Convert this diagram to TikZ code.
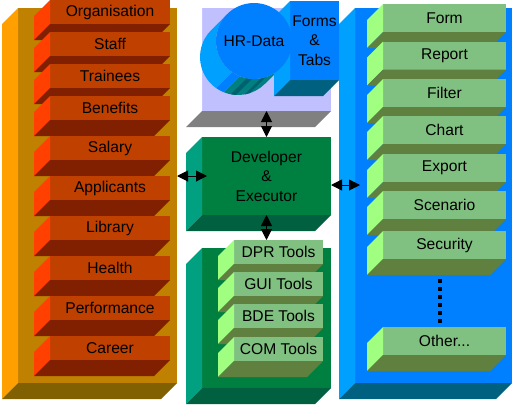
\documentclass[tikz,border=0pt]{standalone}
\usepackage{fontspec}
\setmainfont{Liberation Sans}
\usepackage{tikz}
\usetikzlibrary{arrows.meta}
\usetikzlibrary{positioning}
\usetikzlibrary{calc}
\definecolor{orface}{HTML}{C08000}
\definecolor{orcote}{HTML}{FFA000}
\definecolor{orbas}{HTML}{806000}
\definecolor{rougeface}{HTML}{C04000}
\definecolor{rougecote}{HTML}{FF4000}
\definecolor{rougebas}{HTML}{802000}
\definecolor{lavande}{HTML}{C0C0FF}
\definecolor{gris}{HTML}{808080}
\definecolor{bleuface}{HTML}{0080FF}
\definecolor{bleucote}{HTML}{00A0FF}
\definecolor{bleubas}{HTML}{006080}
\definecolor{sarcelle}{HTML}{008080}
\definecolor{sarcellefonce}{HTML}{006070}
\definecolor{vertface}{HTML}{008040}
\definecolor{vertcote}{HTML}{00A080}
\definecolor{vertbas}{HTML}{006040}
\definecolor{clairface}{HTML}{80C080}
\definecolor{claircote}{HTML}{A0FF80}
\definecolor{clairbas}{HTML}{608040}
\tikzstyle{panneau}=[rectangle,inner sep=0pt,outer sep=0pt,align=center]
\tikzstyle{module}=[panneau,minimum width=120pt,minimum height=24pt,fill=rougeface]
\tikzstyle{outil}=[panneau,minimum width=89pt,minimum height=24pt,fill=clairface]
\tikzstyle{fonction}=[panneau,minimum width=123pt,minimum height=28pt,fill=clairface]
\tikzstyle{lien}=[{Triangle[length=11pt,width=11pt]}-{Triangle[length=11pt,width=11pt]},line width=1pt]
\tikzstyle{pointilles}=[line width=4pt,dash pattern=on 4pt off 4pt]
% faces gauche et dessous d'une boite
\newcommand{\relief}[3]{%
  \fill[#2] (#1.north west) -- (#1.south west) -- ++(-16,16) -- ($(#1.north west)+(-16,16)$) -- cycle;
  \fill[#3] (#1.south west) -- (#1.south east) -- ++(-16,16) -- ($(#1.south west)+(-16,16)$) -- cycle;}

\begin{document}
\begin{tikzpicture}[x=1pt,y=-1pt,font=\fontsize{15.6}{19.5}\selectfont]
\useasboundingbox (0,0) rectangle (513,405);
%Modules
\node[panneau,fill=orface,minimum width=159pt,minimum height=375pt] (modules) at (97.5,195.5) {};
\relief{modules}{orcote}{orbas}
\node[module] (organisation) at (110,12) {Organisation}; \relief{organisation}{rougecote}{rougebas}
\node[module] (staff) at (110,44) {Staff}; \relief{staff}{rougecote}{rougebas}
\node[module] (trainees) at (110,76) {Trainees}; \relief{trainees}{rougecote}{rougebas}
\node[module] (benefits) at (110,108) {Benefits}; \relief{benefits}{rougecote}{rougebas}
\node[module] (salary) at (110,148) {Salary}; \relief{salary}{rougecote}{rougebas}
\node[module] (applicants) at (110,188) {Applicants}; \relief{applicants}{rougecote}{rougebas}
\node[module] (library) at (110,228) {Library}; \relief{library}{rougecote}{rougebas}
\node[module] (health) at (110,268) {Health}; \relief{health}{rougecote}{rougebas}
\node[module] (performance) at (110,308) {Performance}; \relief{performance}{rougecote}{rougebas}
\node[module] (career) at (110,348) {Career}; \relief{career}{rougecote}{rougebas}
%Donnees
\node[panneau,fill=lavande,minimum width=129pt,minimum height=103pt] (data) at (266.5,59.5) {};
\relief{data}{white}{gris}
\fill[bleucote] (254,41) ++(125:38) arc[start angle=125,end angle=225,radius=38] -- ++(-16,16) arc[start angle=225,end angle=125,radius=38] -- cycle;
\fill[bleuface] (254,41) ++(112:38) arc[start angle=112,end angle=125,radius=38] -- ++(-16,16) arc[start angle=125,end angle=112,radius=38] -- cycle;
\fill[sarcelle] (254,41) ++(45:38) arc[start angle=45,end angle=112,radius=38] -- ++(-16,16) arc[start angle=112,end angle=45,radius=38] -- cycle;
\fill[sarcellefonce] (254,41) ++(93:38) arc[start angle=93,end angle=101,radius=38] -- ++(-16,16) arc[start angle=101,end angle=93,radius=38] -- cycle;
\fill[sarcellefonce] (254,41) ++(72:38) arc[start angle=72,end angle=80,radius=38] -- ++(-16,16) arc[start angle=80,end angle=72,radius=38] -- cycle;
\node[panneau,fill=bleuface,minimum width=49pt,minimum height=79pt] (forms) at (314.5,40.5) {Forms\\\&\\Tabs};
\relief{forms}{bleucote}{bleubas}
\node[circle,fill=bleuface,minimum size=76pt,inner sep=0pt] (hrdata) at (254,41) {HR-Data};
%Developpement
\node[panneau,fill=vertface,minimum width=129pt,minimum height=78pt] (dev) at (266.5,176) {Developer\\\&\\Executor};
\relief{dev}{vertcote}{vertbas}
\node[panneau,fill=vertface,minimum width=129pt,minimum height=140pt] (outils) at (266.5,318) {};
\relief{outils}{vertcote}{vertbas}
\node[outil] (dpr) at (278.5,252) {DPR Tools}; \relief{dpr}{claircote}{clairbas}
\node[outil] (gui) at (278.5,284) {GUI Tools}; \relief{gui}{claircote}{clairbas}
\node[outil] (bde) at (278.5,316) {BDE Tools}; \relief{bde}{claircote}{clairbas}
\node[outil] (com) at (278.5,349) {COM Tools}; \relief{com}{claircote}{clairbas}
%Fonctions
\node[panneau,fill=bleuface,minimum width=157pt,minimum height=375pt] (fonctions) at (433.5,195.5) {};
\relief{fonctions}{bleucote}{bleubas}
\node[fonction] (form) at (444.5,18) {Form}; \relief{form}{claircote}{clairbas}
\node[fonction] (report) at (444.5,55.5) {Report}; \relief{report}{claircote}{clairbas}
\node[fonction] (filter) at (444.5,93) {Filter}; \relief{filter}{claircote}{clairbas}
\node[fonction] (chart) at (444.5,130) {Chart}; \relief{chart}{claircote}{clairbas}
\node[fonction] (export) at (444.5,168) {Export}; \relief{export}{claircote}{clairbas}
\node[fonction] (scenario) at (444.5,205) {Scenario}; \relief{scenario}{claircote}{clairbas}
\node[fonction] (security) at (444.5,245) {Security}; \relief{security}{claircote}{clairbas}
\node[fonction] (other) at (444.5,341) {Other...}; \relief{other}{claircote}{clairbas}
\draw[pointilles] ([xshift=-4.5pt,yshift=-20pt]security.south) -- ([xshift=-4.5pt,yshift=4pt]other.north);
%Placementdesfleches
\draw[lien] (data.south) -- (dev.north);
\draw[lien] (dev.south) -- (dev.south |- dpr.north);
\draw[lien,shorten >=-5pt] (modules.east |- dev.west) -- (dev.west);
\draw[lien,shorten >=-5pt] ([yshift=-9pt]dev.east) -- ([yshift=-9pt]dev.east -| fonctions.west);
\end{tikzpicture}
\end{document}
